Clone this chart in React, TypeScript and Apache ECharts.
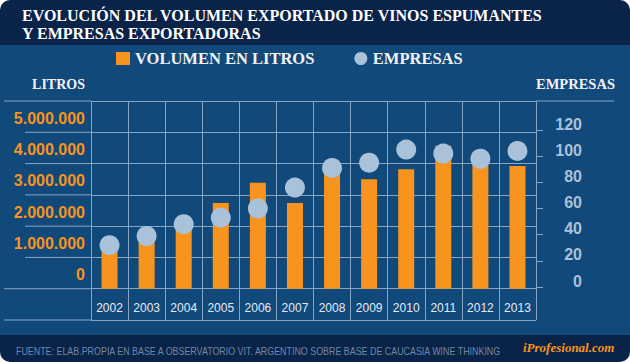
import React, { useEffect, useRef } from 'react';
import * as echarts from 'echarts';

const years = ['2002', '2003', '2004', '2005', '2006', '2007', '2008', '2009', '2010', '2011', '2012', '2013'];
const litros = [1340000, 1620000, 2010000, 2740000, 3390000, 2740000, 3760000, 3500000, 3820000, 4570000, 4360000, 3920000];
const empresas = [32, 39, 48, 53, 60, 76, 91, 95, 105, 102, 98, 104];
const litrosRange = { min: -1000000, max: 6000000, interval: 1000000, labelMax: 5000000 };
const empresasRange = { min: 0, max: 120, interval: 20 };

const TITLE = 'EVOLUCIÓN DEL VOLUMEN EXPORTADO DE VINOS ESPUMANTES\nY EMPRESAS EXPORTADORAS';
const SOURCE = 'FUENTE: ELAB.PROPIA EN BASE A OBSERVATORIO VIT. ARGENTINO SOBRE BASE DE CAUCASIA WINE THINKING';

const W = 630;
const H = 362;
const GL = 91;
const GR = 536;
const GT = 101;
const GB = 320;
const G2T = 130;
const G2B = 287;
const LINE = '#87a6c6';
const ORANGE = '#f7941d';
const DOT = '#a9c1d9';
const SERIF = '"Liberation Serif", "Times New Roman", serif';
const SANS = '"Liberation Sans", Arial, sans-serif';

const fmt = (v: number) => String(v).replace(/\B(?=(\d{3})+(?!\d))/g, '.');

export default function App() {
  const ref = useRef<HTMLDivElement>(null);
  useEffect(() => {
    if (!ref.current) return;
    const chart = echarts.init(ref.current, undefined, { renderer: 'svg' });
    const steps = (litrosRange.max - litrosRange.min) / litrosRange.interval;
    const step = (GB - GT) / steps;
    const extLines: any[] = [];
    for (let i = 0; i <= steps; i++) {
      const y = GT + i * step;
      const far = i === 0 || i >= steps - 1;
      extLines.push({
        type: 'line',
        z: 1,
        shape: { x1: far ? 4 : 25, y1: y, x2: GL, y2: y },
        style: { stroke: LINE, lineWidth: 1 },
      });
    }
    extLines.push({
      type: 'line',
      z: 1,
      shape: { x1: GR, y1: GT, x2: 614, y2: GT },
      style: { stroke: LINE, lineWidth: 1 },
    });

    chart.setOption({
      animation: false,
      title: {
        text: TITLE,
        left: 22,
        top: 6,
        padding: 0,
        textStyle: { color: '#ffffff', fontFamily: SERIF, fontWeight: 'bold', fontSize: 16, lineHeight: 18 },
      },
      legend: {
        left: 116,
        top: 50,
        padding: 0,
        itemWidth: 14,
        itemHeight: 13,
        itemGap: 40,
        textStyle: { color: '#f2f2f2', fontFamily: SERIF, fontWeight: 'bold', fontSize: 16.5 },
        data: [
          { name: 'VOLUMEN EN LITROS', icon: 'rect' },
          { name: 'EMPRESAS', icon: 'circle' },
        ],
      },
      grid: [
        { left: GL, right: W - GR, top: GT, bottom: H - GB, containLabel: false },
        { left: GL, right: W - GR, top: G2T, bottom: H - G2B, containLabel: false },
      ],
      xAxis: [
        {
          type: 'category',
          gridIndex: 0,
          data: years,
          axisLine: { show: false },
          axisTick: { show: false },
          splitLine: { show: true, lineStyle: { color: LINE, width: 1 } },
          axisLabel: { inside: true, margin: 6, color: '#e4ebf3', fontFamily: SANS, fontSize: 12 },
        },
        {
          type: 'category',
          gridIndex: 1,
          data: years,
          show: false,
        },
      ],
      yAxis: [
        {
          type: 'value',
          gridIndex: 0,
          position: 'left',
          min: litrosRange.min,
          max: litrosRange.max,
          interval: litrosRange.interval,
          axisLine: { show: false },
          axisTick: { show: false },
          splitLine: { show: true, lineStyle: { color: LINE, width: 1 } },
          axisLabel: {
            margin: 6,
            color: ORANGE,
            fontFamily: SANS,
            fontWeight: 'bold',
            fontSize: 16,
            verticalAlign: 'bottom',
            lineHeight: 28,
            formatter: (v: number) => (v < 0 || v > litrosRange.labelMax ? '' : fmt(v)),
          },
        },
        {
          type: 'value',
          gridIndex: 1,
          position: 'right',
          min: empresasRange.min,
          max: empresasRange.max,
          interval: empresasRange.interval,
          axisLine: { show: false },
          axisTick: { show: true, length: 7, lineStyle: { color: LINE, width: 1 } },
          splitLine: { show: false },
          axisLabel: {
            align: 'right',
            margin: 46,
            color: DOT,
            fontFamily: SANS,
            fontWeight: 'bold',
            fontSize: 16,
            verticalAlign: 'bottom',
            lineHeight: 12,
          },
        },
      ],
      series: [
        {
          name: 'VOLUMEN EN LITROS',
          type: 'bar',
          xAxisIndex: 0,
          yAxisIndex: 0,
          data: litros,
          barWidth: 16,
          itemStyle: { color: ORANGE },
          z: 2,
        },
        {
          name: 'EMPRESAS',
          type: 'scatter',
          xAxisIndex: 1,
          yAxisIndex: 1,
          data: empresas,
          symbol: 'circle',
          symbolSize: 20,
          itemStyle: { color: DOT, opacity: 1 },
          z: 3,
        },
      ],
      graphic: [
        ...extLines,
        {
          type: 'text',
          x: 85,
          y: 84,
          style: { text: 'LITROS', align: 'right', verticalAlign: 'middle', fill: '#f2f2f2', font: `bold 14px ${SERIF}` },
        },
        {
          type: 'text',
          x: 536,
          y: 84,
          style: { text: 'EMPRESAS', align: 'left', verticalAlign: 'middle', fill: '#f2f2f2', font: `bold 14.5px ${SERIF}` },
        },
        {
          type: 'text',
          x: 16,
          y: 351,
          scaleX: 0.89,
          style: { text: SOURCE, align: 'left', verticalAlign: 'middle', fill: '#6e89a9', font: `10px ${SANS}` },
        },
        {
          type: 'text',
          x: 523,
          y: 347,
          style: { text: 'iProfesional.com', align: 'left', verticalAlign: 'middle', fill: ORANGE, font: `italic bold 13px ${SERIF}` },
        },
      ],
    });
    return () => chart.dispose();
  }, []);

  return (
    <div style={{ position: 'absolute', left: 0, top: 0, width: W, height: H, background: '#ffffff' }}>
      <div
        ref={ref}
        style={{
          width: W,
          height: H,
          borderRadius: 10,
          overflow: 'hidden',
          background: 'linear-gradient(to bottom, #0a2348 0px, #0a2348 45px, #11497b 45px, #11497b 335px, #0a2348 335px, #0a2348 362px)',
        }}
      />
    </div>
  );
}
